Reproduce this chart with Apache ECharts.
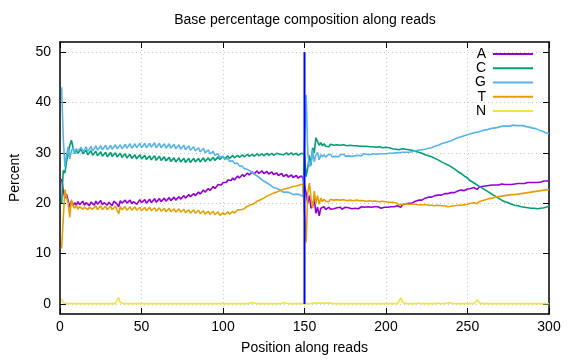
<!DOCTYPE html>
<html>
<head>
<meta charset="utf-8">
<script src="https://cdn.jsdelivr.net/npm/echarts@6/dist/echarts.min.js"></script>
<style>html,body{margin:0;padding:0;background:#fff}#c{width:576px;height:360px}</style>
</head>
<body>
<div id="c"></div>
<script>
// Base percentages per position (1..300); read 1 = 1..150, read 2 = 151..300
const seriesNames = ['A', 'C', 'G', 'T', 'N'];
const readBoundary = 150;
const xTicks = [0, 50, 100, 150, 200, 250, 300];
const yTicks = [0, 10, 20, 30, 40, 50];

const A = [
24.8,22.5,21.0,21.8,20.5,19.2,20.4,19.5,20.1,19.6,
20.3,19.7,19.9,20.4,19.6,20.1,20.3,19.5,20.2,20.0,
19.6,20.4,19.8,19.9,20.5,19.7,20.1,20.4,19.6,20.2,
20.0,19.5,20.4,20.1,19.8,19.3,20.5,20.0,19.8,20.6,
20.0,20.1,20.6,19.9,20.3,20.5,19.8,20.2,20.7,20.1,
20.3,20.7,20.0,20.4,20.8,20.1,20.4,20.9,20.2,20.5,
20.9,20.3,20.6,21.0,20.4,20.7,21.1,20.5,20.8,21.2,
20.6,20.9,21.3,20.8,21.1,21.5,21.0,21.2,21.7,21.3,
21.5,21.9,21.5,21.8,22.2,21.8,22.1,22.6,22.2,22.4,
22.9,22.5,22.8,23.3,22.9,23.2,23.7,23.4,23.6,24.1,
23.8,24.1,24.6,24.3,24.5,25.0,24.6,24.9,25.4,25.0,
25.2,25.7,25.3,25.5,26.0,25.6,25.8,26.2,25.8,26.0,
26.4,25.9,26.1,26.4,25.9,26.1,26.3,25.8,26.0,26.2,
25.7,25.9,26.0,25.5,25.7,25.9,25.3,25.5,25.7,25.2,
25.4,25.6,25.1,25.3,25.5,25.0,25.2,25.4,25.0,25.2,
22.0,20.0,21.5,19.0,19.5,20.8,18.0,19.2,17.5,19.0,
18.8,19.3,18.7,19.0,19.2,18.8,19.1,18.9,18.7,19.1,
18.9,19.2,18.8,19.0,19.2,18.9,19.1,19.3,18.9,19.1,
19.0,19.2,18.9,19.1,19.3,19.0,19.2,19.0,19.3,19.1,
19.2,19.0,19.3,19.1,19.3,19.2,19.0,19.3,19.2,19.4,
19.2,19.4,19.3,19.5,19.3,19.6,19.5,19.4,19.2,19.7,
19.7,19.9,19.8,20.0,20.1,20.0,20.3,20.4,20.3,20.6,
20.7,20.6,20.9,21.0,20.9,21.2,21.3,21.2,21.4,21.5,
21.4,21.6,21.7,21.6,21.8,21.9,21.8,21.9,21.7,22.1,
22.2,22.1,22.4,22.4,22.3,22.6,22.6,22.5,22.8,22.8,
22.9,22.9,23.0,23.1,23.0,22.7,23.2,23.2,23.3,23.3,
23.4,23.3,23.5,23.4,23.6,23.5,23.6,23.7,23.6,23.7,
23.8,23.6,23.7,23.8,23.7,23.8,23.7,23.9,23.8,23.8,
23.9,23.8,23.9,24.0,23.9,24.0,24.1,24.0,24.1,24.0,
24.1,24.2,24.1,24.3,24.2,24.3,24.4,24.3,24.4,24.5
];

const C = [
20.0,26.5,26.0,28.2,29.8,31.5,32.5,31.0,29.8,30.6,
29.9,30.2,30.7,29.8,30.1,30.5,29.6,30.0,30.4,29.5,
29.9,30.3,29.4,29.8,30.2,29.3,29.7,30.1,29.2,29.6,
30.1,29.3,29.5,30.0,29.2,29.4,29.9,29.1,29.4,29.8,
29.0,29.3,29.7,28.9,29.2,29.6,28.8,29.1,29.6,28.8,
29.0,29.5,28.7,29.0,29.4,28.6,28.9,29.4,28.5,28.8,
29.3,28.5,28.7,29.2,28.4,28.7,29.1,28.3,28.6,29.0,
28.2,28.5,29.0,28.2,28.4,28.9,28.1,28.4,28.9,28.1,
28.4,28.9,28.2,28.4,28.9,28.2,28.5,29.0,28.3,28.6,
29.0,28.4,28.7,29.1,28.5,28.8,29.2,28.7,28.9,29.3,
28.8,29.0,29.4,28.9,29.1,29.5,29.0,29.2,29.5,29.1,
29.3,29.6,29.2,29.4,29.7,29.3,29.5,29.7,29.3,29.5,
29.8,29.4,29.6,29.8,29.4,29.6,29.9,29.5,29.7,29.9,
29.5,29.7,29.9,29.6,29.7,30.0,29.6,29.8,30.0,29.6,
29.7,30.0,29.6,29.8,29.9,29.5,29.7,29.9,29.6,29.7,
25.3,27.0,29.5,27.5,31.0,30.0,33.0,33.3,31.5,32.0,
31.4,31.8,31.3,31.6,31.2,31.7,31.4,31.5,31.2,31.6,
31.3,31.5,31.2,31.6,31.3,31.4,31.1,31.5,31.2,31.4,
31.1,31.4,31.2,31.3,31.0,31.3,31.1,31.3,31.0,31.2,
31.0,31.2,30.9,31.1,31.0,31.2,30.9,31.0,30.9,31.1,
30.8,31.0,30.9,30.8,31.0,30.7,30.9,30.6,30.6,30.8,
30.6,30.7,30.5,30.6,30.4,30.5,30.3,30.3,30.2,30.1,
30.0,29.9,29.7,29.6,29.5,29.4,29.3,29.2,29.0,28.9,
28.7,28.6,28.4,28.2,28.1,27.9,27.7,27.6,27.4,27.2,
27.0,26.8,26.5,26.3,26.1,25.9,25.6,25.4,25.2,25.0,
24.6,24.4,24.2,24.0,23.8,23.6,23.4,23.2,23.0,22.8,
22.6,22.4,22.2,22.0,21.8,21.6,21.4,21.2,21.0,20.8,
20.6,20.5,20.3,20.2,20.1,19.9,19.8,19.7,19.6,19.5,
19.5,19.4,19.3,19.3,19.2,19.2,19.1,19.2,19.0,19.1,
19.0,19.1,18.9,19.0,19.0,18.9,19.1,19.2,19.3,19.4
];

const G = [
43.0,33.0,27.2,29.5,31.2,28.8,30.4,31.0,29.9,30.8,
30.3,30.5,31.1,30.2,30.6,31.2,30.3,30.7,31.3,30.4,
30.8,31.4,30.5,30.8,31.4,30.6,30.9,31.5,30.6,31.0,
31.5,30.7,31.1,31.6,30.8,30.6,31.6,30.8,31.2,31.7,
30.9,31.2,31.8,30.9,31.3,31.8,31.0,31.3,31.9,31.0,
31.4,31.9,31.0,31.4,31.9,31.1,31.4,32.0,31.0,31.4,
31.9,31.0,31.3,31.8,30.9,31.3,31.8,30.9,31.2,31.7,
30.8,31.1,31.6,30.7,31.0,31.5,30.6,30.9,31.4,30.5,
30.8,31.2,30.4,30.6,31.0,30.2,30.5,30.9,30.0,30.3,
30.6,29.8,30.0,30.3,29.5,29.6,29.8,29.1,29.2,29.3,
28.7,28.8,28.9,28.3,28.4,28.4,27.9,27.9,27.9,27.4,
27.4,27.3,26.9,26.9,26.7,26.4,26.3,26.1,25.8,25.7,
25.4,25.1,24.9,24.7,24.4,24.2,24.0,23.7,23.6,23.4,
23.1,23.0,22.9,22.6,22.6,22.5,22.2,22.3,22.2,21.9,
22.1,22.0,21.7,21.9,21.8,21.5,21.7,21.6,21.3,21.4,
41.5,30.0,27.2,28.0,30.6,28.2,29.6,30.1,28.6,29.6,
29.2,29.6,29.1,29.5,29.3,29.7,29.2,29.5,29.3,29.6,
29.2,29.6,29.4,29.7,29.3,29.5,29.4,29.7,29.3,29.6,
29.4,29.7,29.5,29.6,29.4,29.8,29.5,29.7,29.5,29.6,
29.5,29.8,29.6,29.7,29.5,29.8,29.6,29.8,29.7,29.8,
29.7,29.9,29.8,29.9,29.8,30.0,29.9,30.0,29.9,30.1,
30.0,30.1,30.2,30.1,30.3,30.2,30.3,30.4,30.3,30.5,
30.5,30.6,30.7,30.7,30.8,30.9,31.0,31.0,31.2,31.3,
31.4,31.5,31.7,31.8,31.8,32.0,32.1,32.2,32.3,32.4,
32.6,32.7,32.8,33.0,33.1,33.2,33.3,33.4,33.5,33.6,
33.7,33.8,33.9,34.0,34.0,34.1,34.2,34.3,34.4,34.5,
34.5,34.6,34.7,34.8,34.8,34.9,35.0,35.0,35.1,35.2,
35.2,35.3,35.2,35.3,35.4,35.3,35.4,35.5,35.4,35.4,
35.5,35.4,35.3,35.4,35.3,35.2,35.1,35.1,35.0,34.9,
34.8,34.8,34.6,34.5,34.4,34.3,34.2,34.0,33.9,33.8
];

const T = [
11.0,17.0,22.7,21.2,20.0,17.2,20.7,19.5,19.0,19.6,
18.8,19.3,19.6,18.8,19.2,19.5,18.7,19.2,19.5,18.8,
19.1,19.5,18.7,19.1,19.5,18.7,19.0,19.4,18.7,19.0,
19.4,18.7,19.0,19.4,18.6,17.9,19.3,18.7,19.0,19.3,
18.6,18.9,19.3,18.6,18.9,19.3,18.6,18.8,19.2,18.5,
18.8,19.2,18.5,18.8,19.2,18.5,18.8,19.1,18.4,18.7,
19.1,18.4,18.7,19.0,18.3,18.6,19.0,18.3,18.6,18.9,
18.2,18.5,18.9,18.2,18.5,18.8,18.1,18.4,18.7,18.0,
18.3,18.7,18.0,18.2,18.6,17.9,18.2,18.5,17.8,18.1,
18.4,17.8,18.0,18.4,17.7,18.0,18.3,17.6,17.9,18.1,
17.7,18.0,18.3,17.8,18.1,18.4,18.0,18.3,18.7,18.4,
18.7,19.0,18.9,19.1,19.4,19.4,19.7,19.9,19.9,20.2,
20.4,20.5,20.7,20.9,21.0,21.2,21.4,21.5,21.7,21.8,
22.0,22.1,22.2,22.4,22.5,22.6,22.7,22.8,22.9,23.0,
23.1,23.2,23.3,23.3,23.4,23.5,23.6,23.7,23.8,23.9,
12.2,22.0,24.0,21.0,19.0,22.4,20.0,21.5,19.8,21.0,
20.3,20.8,20.4,20.7,20.3,20.8,20.5,20.6,20.3,20.7,
20.4,20.6,20.3,20.7,20.4,20.5,20.3,20.6,20.4,20.5,
20.3,20.6,20.3,20.5,20.2,20.5,20.3,20.4,20.2,20.5,
20.3,20.4,20.2,20.4,20.1,20.3,20.2,20.4,20.1,20.3,
20.1,20.2,20.0,20.2,19.9,20.1,19.9,19.7,19.4,19.8,
19.8,19.9,19.7,19.8,19.6,19.8,19.7,19.8,19.6,19.7,
19.6,19.7,19.5,19.7,19.5,19.6,19.4,19.6,19.5,19.5,
19.4,19.6,19.4,19.5,19.3,19.5,19.4,19.3,19.1,19.4,
19.4,19.5,19.4,19.6,19.5,19.6,19.6,19.7,19.7,19.8,
19.8,20.0,20.0,20.1,20.2,19.9,20.3,20.4,20.5,20.6,
20.7,20.8,20.9,21.0,21.0,21.1,21.2,21.2,21.3,21.3,
21.4,21.4,21.5,21.5,21.6,21.6,21.7,21.7,21.7,21.8,
21.8,21.9,21.9,22.0,22.0,22.1,22.1,22.2,22.2,22.3,
22.3,22.4,22.4,22.5,22.5,22.6,22.6,22.6,22.7,22.7
];

const N = [
1.0,0.3,0.05,0.05,0.05,0.05,0.05,0.05,0.05,0.05,
0.05,0.05,0.05,0.05,0.05,0.05,0.05,0.05,0.05,0.05,
0.05,0.05,0.05,0.05,0.05,0.05,0.05,0.05,0.05,0.05,
0.05,0.05,0.05,0.05,0.3,1.3,0.3,0.05,0.05,0.05,
0.05,0.05,0.05,0.05,0.05,0.05,0.05,0.05,0.05,0.05,
0.05,0.05,0.05,0.05,0.05,0.05,0.05,0.05,0.05,0.05,
0.05,0.05,0.05,0.05,0.05,0.05,0.05,0.05,0.05,0.05,
0.05,0.05,0.05,0.05,0.05,0.05,0.05,0.05,0.05,0.05,
0.05,0.05,0.05,0.05,0.05,0.05,0.05,0.05,0.05,0.05,
0.05,0.05,0.05,0.05,0.05,0.05,0.05,0.05,0.05,0.05,
0.05,0.05,0.05,0.05,0.05,0.05,0.05,0.05,0.05,0.05,
0.05,0.05,0.05,0.05,0.05,0.15,0.25,0.3,0.2,0.05,
0.05,0.05,0.05,0.05,0.05,0.05,0.05,0.05,0.05,0.05,
0.05,0.05,0.05,0.05,0.05,0.15,0.25,0.3,0.15,0.05,
0.05,0.05,0.05,0.05,0.05,0.05,0.05,0.05,0.05,0.05,
0.05,0.15,0.05,0.05,0.15,0.05,0.15,0.05,0.15,0.2,
0.15,0.2,0.15,0.2,0.15,0.25,0.15,0.15,0.05,0.05,
0.05,0.05,0.05,0.05,0.05,0.05,0.05,0.2,0.05,0.05,
0.05,0.05,0.05,0.05,0.05,0.05,0.05,0.05,0.05,0.05,
0.05,0.05,0.05,0.05,0.05,0.05,0.05,0.05,0.05,0.05,
0.05,0.05,0.05,0.05,0.05,0.05,0.05,0.4,1.2,0.4,
0.05,0.05,0.05,0.05,0.05,0.05,0.05,0.05,0.1,0.2,
0.05,0.05,0.05,0.05,0.05,0.05,0.05,0.05,0.05,0.05,
0.05,0.2,0.05,0.05,0.05,0.05,0.05,0.2,0.5,0.2,
0.05,0.05,0.05,0.05,0.05,0.05,0.05,0.05,0.05,0.05,
0.05,0.05,0.05,0.05,0.3,0.8,0.3,0.05,0.05,0.05,
0.05,0.05,0.05,0.05,0.05,0.05,0.05,0.05,0.05,0.05,
0.05,0.05,0.05,0.05,0.05,0.05,0.05,0.05,0.05,0.05,
0.05,0.05,0.05,0.05,0.05,0.05,0.05,0.05,0.05,0.05,
0.05,0.05,0.05,0.05,0.05,0.05,0.05,0.05,0.05,0.05
];

const colors = { A: '#9400d3', C: '#009e73', G: '#56b4e9', T: '#e69f00', N: '#f0e442' };
const values = { A, C, G, T, N };
const FONT = "'Liberation Sans', Arial, Helvetica, sans-serif";
const FS = 14;

const chart = echarts.init(document.getElementById('c'), null, { renderer: 'canvas' });

const baseSeries = seriesNames.map(name => ({
  name,
  type: 'line',
  xAxisIndex: 0,
  yAxisIndex: 0,
  showSymbol: false,
  symbol: 'none',
  data: values[name].map((v, i) => [i + 1, v]),
  lineStyle: { color: colors[name], width: 1.6 },
  itemStyle: { color: colors[name] },
  emphasis: { disabled: true },
  z: 2
}));

baseSeries.push({
  name: 'boundary',
  type: 'line',
  showSymbol: false,
  symbol: 'none',
  data: [[readBoundary, yTicks[0]], [readBoundary, yTicks[yTicks.length - 1]]],
  lineStyle: { color: '#0000ff', width: 2 },
  itemStyle: { color: '#0000ff' },
  emphasis: { disabled: true },
  z: 3
});

const axisCommonX = {
  type: 'value', min: 0, max: 300, interval: 50,
  axisLine: { show: true, onZero: false, lineStyle: { color: '#000', width: 1.5 } },
  axisTick: { show: true, inside: true, length: 6, lineStyle: { color: '#000', width: 1 } }
};
const axisCommonY = {
  type: 'value', min: -2, max: 52,
  axisLine: { show: true, onZero: false, lineStyle: { color: '#000', width: 1.5 } },
  axisTick: { show: true, inside: true, length: 6, customValues: yTicks, lineStyle: { color: '#000', width: 1 } }
};

chart.setOption({
  animation: false,
  backgroundColor: '#fff',
  textStyle: { fontFamily: FONT },
  title: {
    text: 'Base percentage composition along reads',
    left: 305, top: 13, padding: 0, textAlign: 'center',
    textStyle: { fontFamily: FONT, fontSize: FS, fontWeight: 'normal', color: '#000' }
  },
  legend: {
    data: seriesNames,
    orient: 'vertical',
    align: 'right',
    right: 43, top: 47,
    padding: 0,
    itemWidth: 40, itemHeight: 2, itemGap: 0,
    icon: 'rect',
    selectedMode: false,
    textStyle: { fontFamily: FONT, fontSize: FS, color: '#000', lineHeight: 14.2, padding: [0, 2, 0, 0] }
  },
  grid: { left: 60, right: 27, top: 42, bottom: 45, containLabel: false },
  xAxis: [
    Object.assign({}, axisCommonX, {
      position: 'bottom',
      name: 'Position along reads', nameLocation: 'middle', nameGap: 27,
      nameTextStyle: { fontFamily: FONT, fontSize: FS, color: '#000' },
      axisLabel: { show: true, margin: 6, fontFamily: FONT, fontSize: FS, color: '#000', customValues: xTicks },
      splitLine: { show: true, lineStyle: { color: '#c8c8c8', type: [1, 3], width: 1 } }
    }),
    Object.assign({}, axisCommonX, {
      position: 'top',
      axisLabel: { show: false },
      splitLine: { show: false }
    })
  ],
  yAxis: [
    Object.assign({}, axisCommonY, {
      position: 'left',
      name: 'Percent', nameLocation: 'middle', nameGap: 38, nameRotate: 90,
      nameTextStyle: { fontFamily: FONT, fontSize: FS, color: '#000' },
      axisLabel: { show: true, margin: 9, fontFamily: FONT, fontSize: FS, color: '#000', customValues: yTicks },
      splitLine: { show: true, lineStyle: { color: '#c8c8c8', type: [1, 3], width: 1 } }
    }),
    Object.assign({}, axisCommonY, {
      position: 'right',
      axisLabel: { show: false },
      splitLine: { show: false }
    })
  ],
  series: baseSeries
});
</script>
</body>
</html>
